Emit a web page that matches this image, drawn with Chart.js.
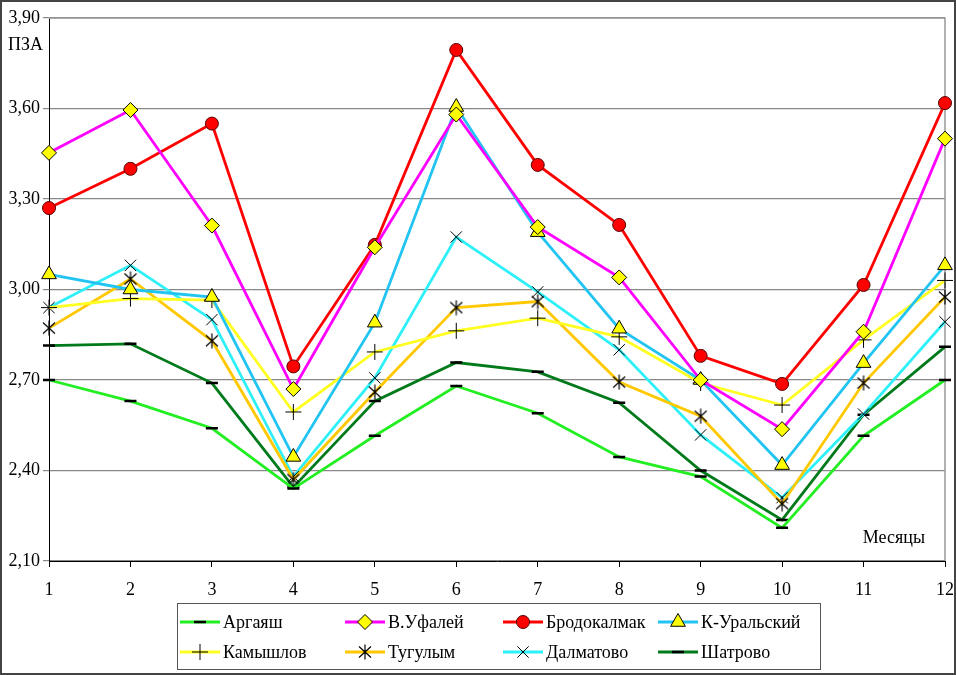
<!DOCTYPE html>
<html>
<head>
<meta charset="utf-8">
<script src="https://cdn.jsdelivr.net/npm/chart.js@4/dist/chart.umd.min.js"></script>
<style>
  html, body { margin: 0; padding: 0; background: #fff; }
  #wrap { width: 956px; height: 675px; position: relative; }
</style>
</head>
<body>
<div id="wrap"><canvas id="pzaChart" width="956" height="675"></canvas></div>
<script>
// Months on the x axis
const months = ['1', '2', '3', '4', '5', '6', '7', '8', '9', '10', '11', '12'];

// Y axis ticks
const yMin = 2.10;
const yMax = 3.90;
const yStep = 0.30;

// Series values
const argayash     = [2.70, 2.63, 2.54, 2.34, 2.515, 2.68, 2.59, 2.445, 2.38, 2.21, 2.515, 2.70];
const vUfaley      = [3.453, 3.595, 3.212, 2.67, 3.14, 3.58, 3.207, 3.04, 2.70, 2.537, 2.86, 3.50];
const brodokalmak  = [3.27, 3.40, 3.55, 2.745, 3.148, 3.794, 3.413, 3.214, 2.78, 2.687, 3.015, 3.618];
const kUralsky     = [3.05, 3.00, 2.975, 2.445, 2.89, 3.605, 3.19, 2.87, 2.70, 2.418, 2.756, 3.08];
const kamyshlov    = [2.94, 2.97, 2.965, 2.594, 2.793, 2.863, 2.905, 2.843, 2.69, 2.617, 2.833, 3.03];
const tugulym      = [2.872, 3.035, 2.83, 2.37, 2.66, 2.94, 2.96, 2.693, 2.58, 2.29, 2.69, 2.975];
const dalmatovo    = [2.94, 3.08, 2.90, 2.38, 2.707, 3.174, 2.992, 2.80, 2.518, 2.31, 2.587, 2.893];
const shatrovo     = [2.814, 2.82, 2.69, 2.345, 2.63, 2.758, 2.727, 2.625, 2.40, 2.236, 2.585, 2.81];

const FONT = '"Liberation Serif", "Times New Roman", serif';

// asterisk marker (x + vertical bar), Chart.js star has 8 arms
function makeAsterisk() {
    const c = document.createElement('canvas');
    c.width = 16; c.height = 16;
    const g = c.getContext('2d');
    g.strokeStyle = '#000';
    g.lineWidth = 1.2;
    g.beginPath();
    g.moveTo(2, 2.5); g.lineTo(14, 13.5);
    g.moveTo(14, 2.5); g.lineTo(2, 13.5);
    g.moveTo(8, 0.5); g.lineTo(8, 15.5);
    g.stroke();
    return c;
}
const asterisk = makeAsterisk();

function series(label, data, color, style, extra) {
    return Object.assign({
        label: label,
        data: data,
        borderColor: color,
        borderWidth: 2.8,
        pointStyle: style,
        pointBackgroundColor: '#000',
        pointBorderColor: '#000',
        pointBorderWidth: 1,
        pointRadius: 7,
        pointHoverRadius: 7,
        tension: 0,
        fill: false
    }, extra || {});
}

const datasets = [
    series('Аргаяш', argayash, '#22EE22', 'line', { pointBorderWidth: 2.5, pointRadius: 6 }),
    series('В.Уфалей', vUfaley, '#FF00FF', 'rectRot', { pointBackgroundColor: '#FFFF00', pointRadius: 7.5 }),
    series('Бродокалмак', brodokalmak, '#FF0000', 'circle', { pointBackgroundColor: '#FF0000', pointBorderColor: '#550000', pointRadius: 6.5 }),
    series('К-Уральский', kUralsky, '#22C4F2', 'triangle', { pointBackgroundColor: '#FFFF00', pointRadius: 8.5 }),
    series('Камышлов', kamyshlov, '#FFFF22', 'cross', { pointRadius: 8 }),
    series('Тугулым', tugulym, '#FFC800', asterisk, {}),
    series('Далматово', dalmatovo, '#2EF0F8', 'crossRot', { pointRadius: 8 }),
    series('Шатрово', shatrovo, '#007A1A', 'line', { pointBorderWidth: 2.5, pointRadius: 6 })
];

// frame, plot border, axis titles and the boxed legend
const decorPlugin = {
    id: 'decor',
    beforeDatasetsDraw(chart) {
        const ctx = chart.ctx;
        const a = chart.chartArea;
        ctx.save();
        ctx.strokeStyle = '#999';
        ctx.lineWidth = 1.5;
        ctx.beginPath();
        ctx.moveTo(a.left, a.top);
        ctx.lineTo(a.right, a.top);
        ctx.lineTo(a.right, a.bottom);
        ctx.stroke();
        ctx.restore();
    },
    afterDraw(chart) {
        const ctx = chart.ctx;
        const a = chart.chartArea;
        ctx.save();
        // outer frame
        ctx.strokeStyle = '#444';
        ctx.lineWidth = 2;
        ctx.strokeRect(1, 1, chart.width - 2, chart.height - 2);

        // axis titles
        ctx.fillStyle = '#000';
        ctx.font = '18px ' + FONT;
        ctx.textBaseline = 'middle';
        ctx.textAlign = 'left';
        ctx.fillText('ПЗА', 8, 45);
        ctx.textAlign = 'right';
        ctx.fillText('Месяцы', a.right - 20, 538);

        // legend box
        const box = { x: 177, y: 603, w: 643, h: 66 };
        ctx.strokeStyle = '#555';
        ctx.lineWidth = 1;
        ctx.strokeRect(box.x + 0.5, box.y + 0.5, box.w, box.h);

        const colX = [180, 345, 503, 658];
        const rowY = [622, 652];
        ctx.textAlign = 'left';
        ctx.font = '18px ' + FONT;
        const drawPoint = Chart.helpers.drawPoint;
        chart.data.datasets.forEach((ds, i) => {
            const x = colX[i % 4];
            const y = rowY[Math.floor(i / 4)];
            ctx.strokeStyle = ds.borderColor;
            ctx.lineWidth = 2.8;
            ctx.beginPath();
            ctx.moveTo(x, y);
            ctx.lineTo(x + 40, y);
            ctx.stroke();
            ctx.fillStyle = ds.pointBackgroundColor;
            ctx.strokeStyle = ds.pointBorderColor;
            ctx.lineWidth = ds.pointBorderWidth;
            drawPoint(ctx, {
                pointStyle: ds.pointStyle,
                radius: ds.pointRadius,
                borderWidth: ds.pointBorderWidth,
                rotation: 0
            }, x + 20, y);
            ctx.fillStyle = '#000';
            ctx.fillText(ds.label, x + 43, y + 1);
        });
        ctx.restore();
    }
};

function renderPzaChart() {
    const ctx = document.getElementById('pzaChart').getContext('2d');
    const chart = new Chart(ctx, {
        type: 'line',
        data: {
            labels: months,
            datasets: datasets
        },
        options: {
            responsive: false,
            animation: false,
            layout: {
                padding: { left: 0, top: 18, right: 11, bottom: 0 }
            },
            plugins: {
                legend: { display: false },
                tooltip: { enabled: false }
            },
            scales: {
                x: {
                    offset: false,
                    grid: {
                        display: true,
                        drawOnChartArea: false,
                        drawTicks: true,
                        tickLength: 6,
                        color: '#000'
                    },
                    border: { display: true, color: '#000', width: 1 },
                    ticks: {
                        color: '#000',
                        padding: 12,
                        maxRotation: 0,
                        font: { family: FONT, size: 18 }
                    },
                    afterFit(scale) {
                        scale.height = 114;
                        scale.paddingLeft = 0;
                        scale.paddingRight = 0;
                    }
                },
                y: {
                    min: yMin,
                    max: yMax,
                    grid: {
                        color: '#888',
                        lineWidth: 1.2,
                        drawTicks: true,
                        tickLength: 6
                    },
                    border: { display: true, color: '#000', width: 1 },
                    ticks: {
                        stepSize: yStep,
                        color: '#000',
                        padding: 3,
                        font: { family: FONT, size: 18 },
                        callback: v => v.toFixed(2).replace('.', ',')
                    },
                    afterFit(scale) { scale.width = 49; }
                }
            }
        },
        plugins: [decorPlugin]
    });
}

document.addEventListener('DOMContentLoaded', renderPzaChart);
</script>
</body>
</html>
